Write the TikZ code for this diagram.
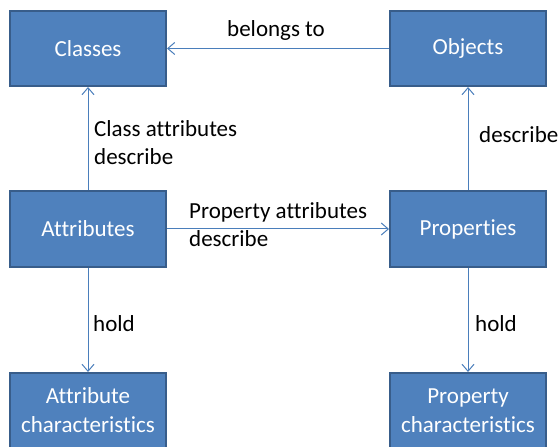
\documentclass[tikz,border=0pt]{standalone}
\usepackage{fontspec}
\setmainfont{Carlito}[Ligatures=NoCommon]
\usetikzlibrary{arrows.meta}
\definecolor{boxfill}{HTML}{4F81BD}
\definecolor{boxedge}{HTML}{385D8A}
\definecolor{linkcol}{HTML}{4A7EBB}
\tikzset{
  entity/.style={draw=boxedge, line width=2bp, fill=boxfill, text=white,
    minimum width=156bp, minimum height=75bp, inner sep=0pt, align=center,
    font=\fontsize{23bp}{29bp}\selectfont},
  link/.style={draw=linkcol, line width=1bp,
    -{Straight Barb[length=7bp, width=12bp, line width=1bp]}},
  caption/.style={anchor=base west, inner sep=0pt, align=left,
    font=\fontsize{23bp}{28bp}\selectfont}
}
\begin{document}
\begin{tikzpicture}[x=1bp, y=-1bp]
  \useasboundingbox (0,0) rectangle (559,447);
  % class side
  \node[entity] (classes) at (88,48.5) {Classes};
  \node[entity] (attrs) at (88,229) {Attributes};
  \node[entity] (attrchar) at (88,410.5) {Attribute\\characteristics};
  % object side
  \node[entity] (objects) at (468,48.5) {Objects};
  \node[entity] (props) at (468,229) {Properties};
  \node[entity] (propchar) at (468,410.5) {Property\\characteristics};
  % relations
  \draw[link] (objects) -- (classes);
  \draw[link] (attrs) -- (classes);
  \draw[link] (props) -- (objects);
  \draw[link] (attrs) -- (props);
  \draw[link] (attrs) -- (attrchar);
  \draw[link] (props) -- (propchar);
  % relation labels (base anchor sits on the last line)
  \node[caption] (lbelongs) at (227,37) {belongs to};
  \node[caption] (lclassattr) at (94,165) {Class attributes\\describe};
  \node[caption] (ldescribe) at (479,143) {describe};
  \node[caption] (lpropattr) at (189,247) {Property attributes\\describe};
  \node[caption] (lholdl) at (93,331) {hold};
  \node[caption] (lholdr) at (475,331) {hold};
\end{tikzpicture}
\end{document}
